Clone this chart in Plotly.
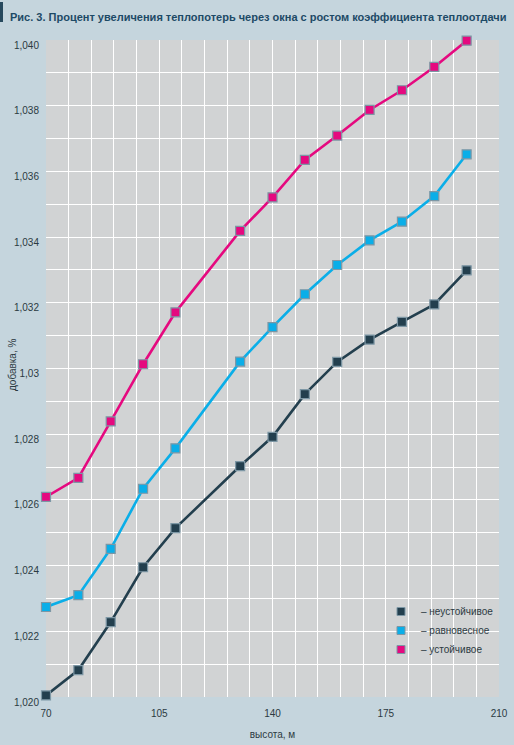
import plotly.graph_objects as go

heights = [70, 80, 90, 100, 110, 130, 140, 150, 160, 170, 180, 190, 200]
unstable = [1.02005, 1.02082, 1.02228, 1.02395, 1.02514, 1.02703, 1.02792, 1.02922, 1.03020, 1.03088, 1.03142, 1.03195, 1.03299]
neutral = [1.02274, 1.02310, 1.02451, 1.02634, 1.02757, 1.03021, 1.03126, 1.03226, 1.03315, 1.03390, 1.03447, 1.03525, 1.03652]
stable = [1.02609, 1.02667, 1.02839, 1.03013, 1.03171, 1.03419, 1.03521, 1.03635, 1.03709, 1.03787, 1.03847, 1.03918, 1.03998]

series_names = ["– неустойчивое", "– равновесное", "– устойчивое"]
series_colors = ["#233f4e", "#0aaee8", "#e5097f"]

x_tickvals = [70, 105, 140, 175, 210]
y_tickvals = [1.020, 1.022, 1.024, 1.026, 1.028, 1.030, 1.032, 1.034, 1.036, 1.038, 1.040]
y_ticktext = ["1,020", "1,022", "1,024", "1,026", "1,028", "1,03", "1,032", "1,034", "1,036", "1,038", "1,040"]

title_text = "Рис. 3. Процент увеличения теплопотерь через окна с ростом коэффициента теплоотдачи"

FONT = "Liberation Sans, Arial, sans-serif"

fig = go.Figure()
for name, ys, col in zip(series_names, [unstable, neutral, stable], series_colors):
    fig.add_trace(go.Scatter(
        x=heights, y=ys, mode="lines+markers", showlegend=False,
        line=dict(color=col, width=2.6),
        marker=dict(symbol="square", size=9, color=col, line=dict(color="#7d97a5", width=1.2)),
        cliponaxis=False,
    ))
for name, col in zip(series_names, series_colors):
    fig.add_trace(go.Scatter(
        x=[None], y=[None], mode="markers", name=name,
        marker=dict(symbol="square", size=8, color=col, line=dict(color="#7d97a5", width=1)),
    ))

fig.update_layout(
    width=514, height=745,
    paper_bgcolor="#c5d5dd", plot_bgcolor="#d1d3d4",
    margin=dict(l=46, r=15, t=40, b=48),
    font=dict(family=FONT, size=10, color="#2c3a42"),
    title=dict(text="<b>" + title_text + "</b>", x=10 / 514, xanchor="left", y=1 - 17 / 745, yanchor="middle",
               font=dict(family=FONT, size=11.0, color="#1d4a66")),
    legend=dict(x=(381 - 46) / 453, y=(697 - 597) / 657, xanchor="left", yanchor="top",
                bgcolor="rgba(0,0,0,0)",
                font=dict(family=FONT, size=10, color="#2c3a42"), itemwidth=30, tracegroupgap=0),
    xaxis=dict(range=[70, 210], tickvals=x_tickvals, showgrid=True, gridcolor="white", gridwidth=1.3,
               minor=dict(dtick=7, tick0=70, showgrid=True, gridcolor="white", gridwidth=1.3),
               zeroline=False, showline=False, ticks="", ticklen=0, ticklabelstandoff=9,
               automargin=False,
               title=dict(text="высота, м", font=dict(size=10), standoff=12)),
    yaxis=dict(range=[1.020, 1.040], tickvals=y_tickvals, ticktext=y_ticktext, showgrid=True,
               gridcolor="white", gridwidth=1.3, automargin=False,
               minor=dict(dtick=0.001, tick0=1.020, showgrid=True, gridcolor="white", gridwidth=1.3),
               zeroline=False, showline=False, ticks="", ticklabelshift=5, ticklabelstandoff=6),
    shapes=[dict(type="rect", xref="paper", yref="paper", x0=-46 / 453, x1=-43 / 453,
                 y0=1 + 18 / 657, y1=1 + 38 / 657,
                 fillcolor="#27495d", line=dict(width=0))],
    annotations=[dict(text="добавка, %", textangle=-90, xref="paper", yref="paper",
                      x=(12 - 46) / 453, y=(697 - 365) / 657, xanchor="center", yanchor="middle",
                      showarrow=False,
                      font=dict(family=FONT, size=10, color="#2c3a42"))],
)

fig.write_html("out.html", config={"displayModeBar": False},
               post_script="document.body.style.margin='0';")
